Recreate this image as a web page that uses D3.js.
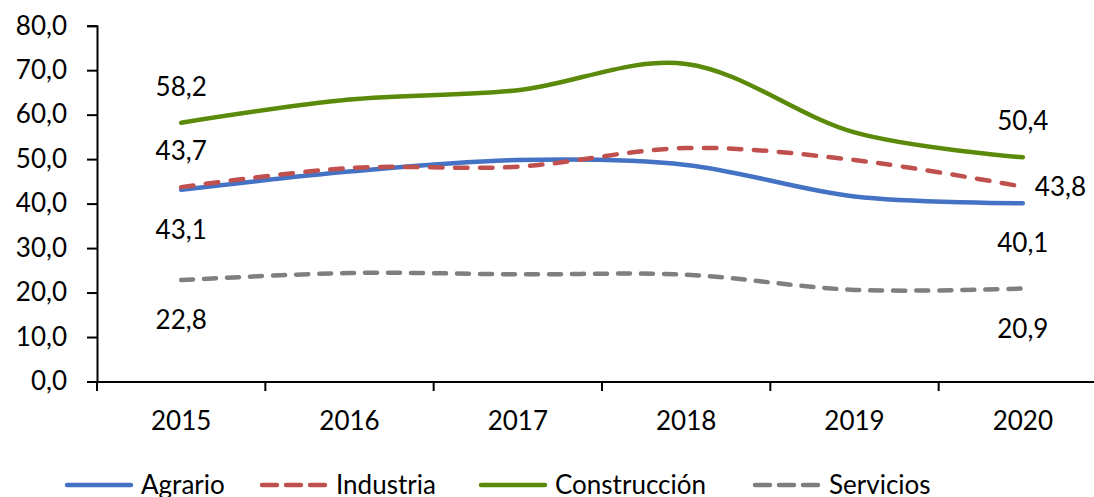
<!DOCTYPE html>
<html><head><meta charset="utf-8">
<script src="https://cdn.jsdelivr.net/npm/d3@7"></script>
<style>html,body{margin:0;padding:0;background:#fff;overflow:hidden}</style>
</head><body>
<svg id="c" width="1094" height="497"></svg>
<script>
const years = ["2015","2016","2017","2018","2019","2020"];
const seriesNames = ["Agrario","Industria","Construcción","Servicios"];
const agrario = [43.1, 47.2, 49.8, 48.7, 41.6, 40.1];
const industria = [43.7, 48.0, 48.3, 52.5, 49.8, 43.8];
const construccion = [58.2, 63.4, 65.5, 71.4, 56.0, 50.4];
const servicios = [22.8, 24.4, 24.1, 24.0, 20.6, 20.9];
const yTicks = [0,10,20,30,40,50,60,70,80];

const seriesValues = [agrario, industria, construccion, servicios];
const colors = ["#4472C4","#C0504D","#5B8A0A","#7F7F7F"];
const dashes = [null, "12.5,12.5", null, "12,11"];
// labelled points: [series index, point index, placement]
const labelSpec = [[2,0,"above"],[1,0,"above"],[0,0,"below"],[3,0,"below"],
                   [2,5,"above"],[1,5,"right"],[0,5,"below"],[3,5,"below"]];

const svg = d3.select("#c");
const font = "Lato, 'Open Sans', sans-serif";
const x = d3.scaleBand().domain(years).range([97, 1107]);
const y = d3.scaleLinear().domain([0, 80]).range([381.5, 25.7]);
const fmt = v => d3.format(".1f")(v).replace(".", ",");

// y axis
const ya = svg.append("g").attr("transform","translate(97,0)")
  .call(d3.axisLeft(y).tickValues(yTicks).tickSize(10).tickPadding(20).tickFormat(fmt));
ya.select(".domain").attr("stroke","#000").attr("stroke-width",2);
ya.selectAll(".tick line").attr("stroke","#000").attr("stroke-width",2);
ya.selectAll("text").attr("font-family",font).attr("font-size",26).attr("fill","#000");

// x axis
const xa = svg.append("g").attr("transform","translate(0,381.5)")
  .call(d3.axisBottom(x).tickSize(0).tickPadding(30));
xa.select(".domain").attr("stroke","#000").attr("stroke-width",2);
xa.selectAll("text").attr("font-family",font).attr("font-size",26).attr("fill","#000");
// boundary ticks
const bounds = years.map((d)=>x(d)).concat([x(years[years.length-1])+x.bandwidth()]);
svg.append("g").selectAll("line").data(bounds).join("line")
  .attr("x1",d=>d).attr("x2",d=>d).attr("y1",381.5).attr("y2",391)
  .attr("stroke","#000").attr("stroke-width",2);

const cx = d => x(d) + x.bandwidth()/2;
const line = d3.line().x((d,i)=>cx(years[i])).y(d=>y(d)).curve(d3.curveCardinal.tension(0));

seriesValues.forEach((vals, s) => {
  svg.append("path").attr("d", line(vals)).attr("fill","none")
    .attr("stroke", colors[s]).attr("stroke-width", 4.5)
    .attr("stroke-linecap","round").attr("stroke-linejoin","round")
    .attr("stroke-dasharray", dashes[s]);
});

// data labels
labelSpec.forEach(([s,i,pos]) => {
  const v = seriesValues[s][i];
  const px = cx(years[i]), py = y(v);
  let tx = px, ty = py, anchor = "middle";
  if (pos === "above") ty = py - 36;
  else if (pos === "below") ty = py + 40;
  else { tx = px + 12; anchor = "start"; }
  svg.append("text").attr("x",tx).attr("y",ty).attr("dy","0.35em")
    .attr("text-anchor",anchor).attr("font-family",font).attr("font-size",26)
    .attr("fill","#000").text(fmt(v));
});

// legend
const legX = [65, 260, 479, 753];
const lg = svg.append("g");
seriesNames.forEach((n, s) => {
  const g = lg.append("g").attr("transform",`translate(${legX[s]},485)`);
  g.append("line").attr("x1",2).attr("x2",66).attr("y1",0).attr("y2",0)
    .attr("stroke",colors[s]).attr("stroke-width",4.5).attr("stroke-linecap","round")
    .attr("stroke-dasharray", dashes[s] ? "15,9" : null);
  g.append("text").attr("x",76).attr("y",0).attr("dy","0.35em")
    .attr("font-family",font).attr("font-size",26).attr("fill","#000").text(n);
});
</script>
</body></html>
